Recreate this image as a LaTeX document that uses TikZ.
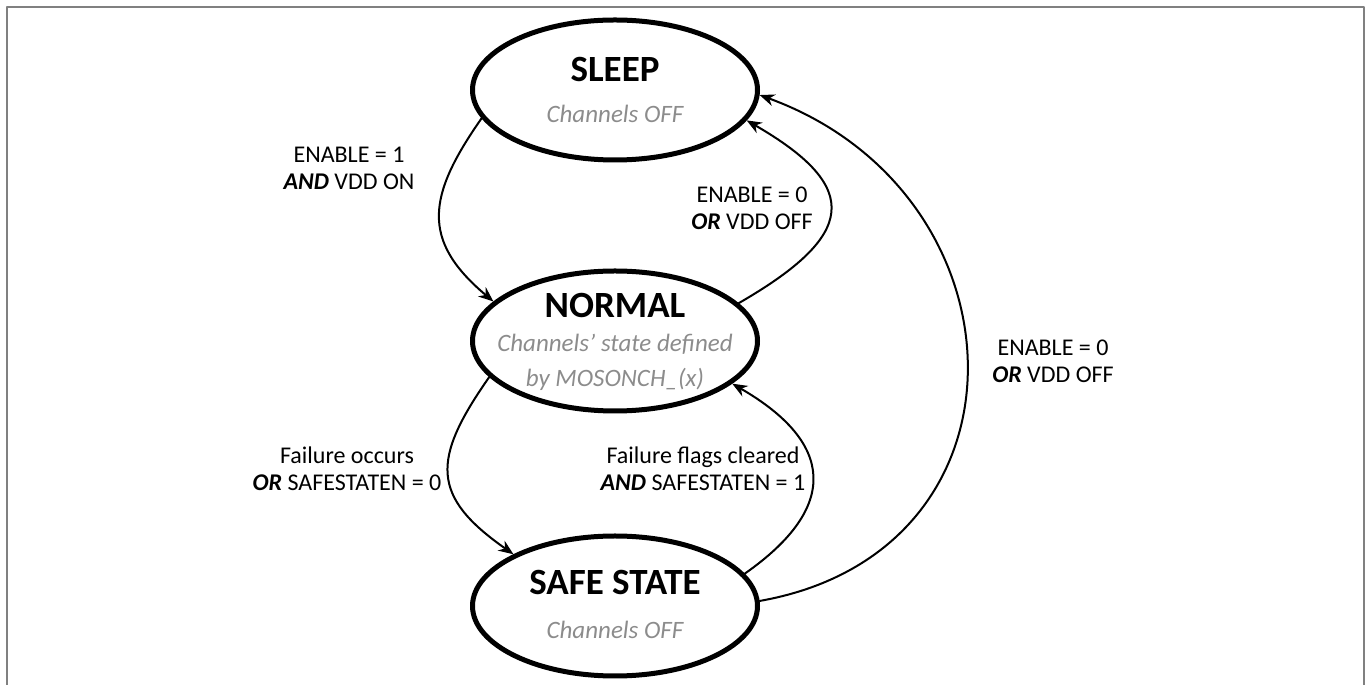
\documentclass[tikz,border=0pt]{standalone}
\usepackage{fontspec}
\setmainfont{Carlito}
\usepackage{tikz}
\usetikzlibrary{shapes.geometric,arrows.meta}
\definecolor{framegray}{RGB}{128,128,128}
\definecolor{subgray}{RGB}{140,140,140}

\begin{document}
\begin{tikzpicture}[x=1pt,y=1pt,line cap=round,line join=round,
	state/.style={draw=black,line width=5pt,ellipse,minimum width=285pt,minimum height=140pt,inner sep=0pt},
	statename/.style={anchor=base,font=\fontsize{37}{40}\selectfont\bfseries},
	statetext/.style={anchor=base,text=subgray,font=\fontsize{25}{30}\selectfont\itshape},
	cond/.style={align=center,font=\fontsize{24}{27}\selectfont},
	trans/.style={line width=2pt,-{Stealth[length=15pt,width=12pt]}}]
	\useasboundingbox (0,0) rectangle (1371,685);
	\draw[framegray,line width=2pt,line cap=butt] (6.5,0) -- (6.5,677.5) -- (1364,677.5) -- (1364,0);
	\node[state] (sleep) at (615,595) {};
	\node[state] (normal) at (615,344) {};
	\node[state] (safe) at (615,79) {};
	\node[statename] (sleep-name) at ([yshift=8pt]sleep.center) {SLEEP};
	\node[statetext] (sleep-text) at ([yshift=-33pt]sleep.center) {Channels OFF};
	\node[statename] (normal-name) at ([yshift=23pt]normal.center) {NORMAL};
	\node[statetext] (normal-text) at ([yshift=-11pt]normal.center) {Channels’ state defined};
	\node[statetext] (normal-text2) at ([yshift=-46pt]normal.center) {by MOSONCH\_(x)};
	\node[statename] (safe-name) at ([yshift=11pt]safe.center) {SAFE STATE};
	\node[statetext] (safe-text) at ([yshift=-33pt]safe.center) {Channels OFF};
	\draw[trans] (sleep.192) .. controls +(235:95) and +(140:95) .. (normal.162);
	\draw[trans] (normal.17) .. controls +(30:135) and +(330:135) .. (sleep.347);
	\draw[trans] (normal.196) .. controls +(235:101) and +(145:101) .. (safe.153);
	\draw[trans] (safe.14) .. controls +(35:117) and +(330:117) .. (normal.340);
	\draw[trans] (safe.2) .. controls +(10:287) and +(340:287) .. (sleep.358);
	\node[cond] (cond-wake) at (349,517) {ENABLE = 1\\\textbf{\textit{AND}} VDD ON};
	\node[cond] (cond-sleep) at (752,477) {ENABLE = 0\\\textbf{\textit{OR}} VDD OFF};
	\node[cond] (cond-fail) at (347,216) {Failure occurs\\\textbf{\textit{OR}} SAFESTATEN = 0};
	\node[cond] (cond-clear) at (703,216) {Failure flags cleared\\\textbf{\textit{AND}} SAFESTATEN = 1};
	\node[cond] (cond-off) at (1053,324) {ENABLE = 0\\\textbf{\textit{OR}} VDD OFF};
\end{tikzpicture}
\end{document}
